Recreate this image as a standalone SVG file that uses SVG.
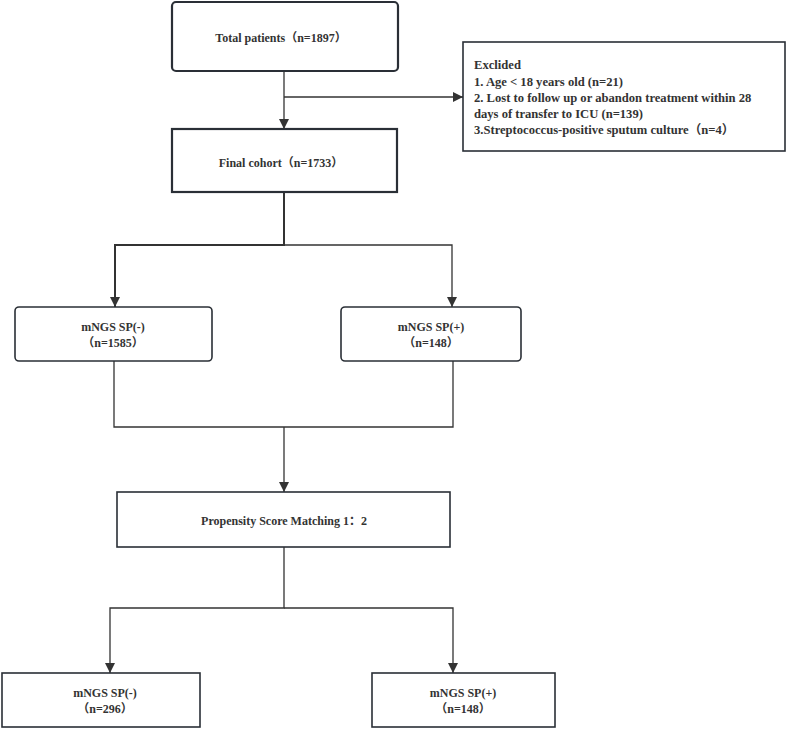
<svg xmlns="http://www.w3.org/2000/svg" width="787" height="730" viewBox="0 0 787 730">
<style>
.box{fill:#fff;stroke:#2a2f36;stroke-width:1.6}
.thick{stroke-width:2.2}
.t{font-family:"Liberation Serif","Times New Roman","Noto Sans CJK SC",serif;font-weight:bold;font-size:12.6px;fill:#333}
.s{font-size:12px}
.c{text-anchor:middle}
.ln{fill:none;stroke:#333;stroke-width:1.3}
.lnb{fill:none;stroke:#333;stroke-width:2}
</style>
<defs>
<marker id="ah" markerUnits="userSpaceOnUse" markerWidth="10" markerHeight="12" refX="10" refY="5" orient="auto">
<path d="M0,0 L10,5 L0,10 z" fill="#333"/>
</marker>
</defs>
<rect width="787" height="730" fill="#fff"/>
<g id="connectors">
<path class="ln" d="M284 71 V129" marker-end="url(#ah)"/>
<path class="ln" d="M284 97 H463" marker-end="url(#ah)"/>
<path class="lnb" d="M284 192 V245 H115 V307" marker-end="url(#ah)"/>
<path class="ln" d="M284 245 H452 V307" marker-end="url(#ah)"/>
<path class="ln" d="M114 361 V427 H453 V361"/>
<path class="ln" d="M284 427 V492" marker-end="url(#ah)"/>
<path class="ln" d="M284 547 V608 H110 V673" marker-end="url(#ah)"/>
<path class="ln" d="M284 608 H453 V673" marker-end="url(#ah)"/>
</g>
<g id="total">
<rect class="box thick" x="172" y="2" width="226" height="69" rx="4"/>
<text class="t s c" x="281" y="42">Total patients（n=1897）</text>
</g>
<g id="excluded">
<rect class="box" x="463" y="42" width="322" height="109"/>
<text class="t" x="474" y="69">Exclided</text>
<text class="t" x="474" y="86">1. Age &lt; 18 years old (n=21)</text>
<text class="t" x="474" y="102">2. Lost to follow up or abandon treatment within 28</text>
<text class="t" x="474" y="118">days of transfer to ICU (n=139)</text>
<text class="t" x="474" y="134">3.Streptococcus-positive sputum culture（n=4）</text>
</g>
<g id="final">
<rect class="box thick" x="172" y="129" width="225" height="63"/>
<text class="t s c" x="281" y="167">Final cohort（n=1733）</text>
</g>
<g id="neg1">
<rect class="box" x="15" y="307" width="197" height="54" rx="4"/>
<text class="t s c" x="113" y="331">mNGS SP(-)</text>
<text class="t s c" x="113" y="347">（n=1585）</text>
</g>
<g id="pos1">
<rect class="box" x="341" y="307" width="180" height="54" rx="4"/>
<text class="t s c" x="431" y="331">mNGS SP(+)</text>
<text class="t s c" x="431" y="347">（n=148）</text>
</g>
<g id="psm">
<rect class="box" x="117" y="492" width="333" height="55"/>
<text class="t s c" x="284" y="525">Propensity Score Matching 1：2</text>
</g>
<g id="neg2">
<rect class="box" x="2" y="673" width="198" height="54"/>
<text class="t s c" x="105" y="697">mNGS SP(-)</text>
<text class="t s c" x="105" y="713">（n=296）</text>
</g>
<g id="pos2">
<rect class="box" x="372" y="673" width="183" height="54"/>
<text class="t s c" x="463" y="697">mNGS SP(+)</text>
<text class="t s c" x="463" y="713">（n=148）</text>
</g>
</svg>
